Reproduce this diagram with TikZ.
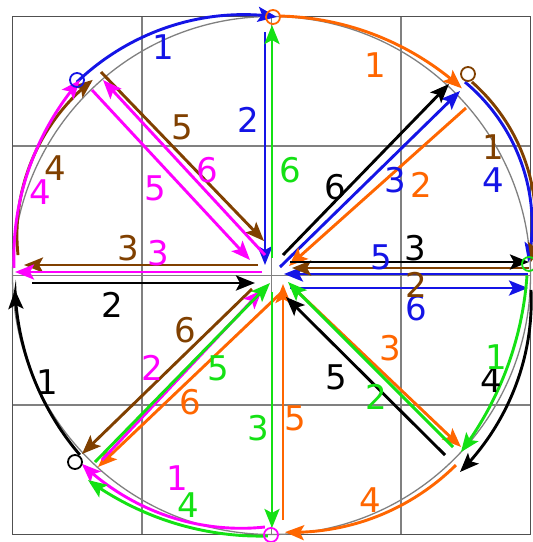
\documentclass[tikz,border=0pt]{standalone}
\usepackage{fontspec}
\setmainfont{DejaVu Sans}
\usetikzlibrary{arrows.meta}
\definecolor{cblue}{RGB}{20,20,230}
\definecolor{corange}{RGB}{255,102,0}
\definecolor{cbrown}{RGB}{128,64,0}
\definecolor{cmag}{RGB}{255,0,255}
\definecolor{cgreen}{RGB}{20,225,20}
\definecolor{gridgray}{RGB}{128,128,128}
\definecolor{bordergray}{RGB}{80,80,80}
\newcommand{\sarc}[6]{%
 \draw[#1] plot[smooth, domain=0:1, samples=40, variable=\f]
 ({271.5+(#3+(#5-#3)*\f+4*(#6-(#3+#5)/2)*\f*(1-\f))*cos(#2+(#4-#2)*\f)},
  {275.5-(#3+(#5-#3)*\f+4*(#6-(#3+#5)/2)*\f*(1-\f))*sin(#2+(#4-#2)*\f)});}
\tikzset{
 pth/.style={line width=2.9pt, line cap=butt, -{Stealth[length=19pt,width=15pt,inset=4pt]}},
 cB/.style={pth, color=cblue},
 cO/.style={pth, color=corange},
 cN/.style={pth, color=cbrown},
 cM/.style={pth, color=cmag},
 cK/.style={pth, color=black},
 cG/.style={pth, color=cgreen},
 gridl/.style={draw=gridgray, line width=1.6pt},
 border/.style={draw=bordergray, line width=1.8pt},
 circl/.style={draw=gridgray, line width=1.3pt},
 lbl/.style={font=\fontsize{34}{40}\selectfont, inner sep=0pt},
 mk/.style={circle, draw, line width=1.8pt, minimum size=14pt, inner sep=0pt}
}
\begin{document}
\begin{tikzpicture}[x=1pt,y=-1pt]
\useasboundingbox (0,0) rectangle (533,542);
\fill[white] (0,0) rectangle (533,542);
% grid
\foreach \i in {1,2,3} {
 \draw[gridl] ({12.5+129.5*\i},16.5) -- ({12.5+129.5*\i},534.5);
 \draw[gridl] (12.5,{16.5+129.5*\i}) -- (530.5,{16.5+129.5*\i});
}
\draw[border] (12.5,16.5) rectangle (530.5,534.5);
\draw[circl] (271.5,275.5) circle[radius=259pt];
% blue
\sarc{cB}{135.2}{274.4}{88.8}{258.6}{269}
\draw[cB] (265,32) -- (265,265);
\draw[cB] (280,267) -- (460,91);
\sarc{cB}{45}{273.6}{3}{257}{274}
\draw[cB] (528,274) -- (284,274);
\draw[cB] (290,288) -- (528,288);
% orange
\sarc{cO}{88.1}{259.6}{44.5}{267}{262}
\draw[cO] (466,108) -- (289,266);
\draw[cO] (298,292) -- (461,447);
\sarc{cO}{-45.8}{264.5}{-87}{257}{263}
\draw[cO] (283,520) -- (283,284);
\draw[cO] (282,292) -- (98,467);
% brown
\sarc{cN}{44}{278.6}{3}{260}{278}
\draw[cN] (529,268) -- (292,268);
\draw[cN] (258,265) -- (24,265);
\sarc{cN}{175.4}{254.3}{132.4}{265}{266}
\draw[cN] (101,72) -- (264,241);
\draw[cN] (252,289) -- (82,454);
% magenta
\sarc{cM}{268.5}{251.6}{224.8}{267.3}{262}
\draw[cM] (102,460) -- (262,290);
\draw[cM] (262,272) -- (15,272);
\sarc{cM}{178.3}{257.6}{134.4}{273.7}{265}
\draw[cM] (92,90) -- (250,260);
\draw[cM] (265,255) -- (103,80);
% black
\sarc{cK}{223.1}{262.5}{183.2}{256.9}{259}
\draw[cK] (32,283) -- (255,283);
\draw[cK] (290,262) -- (529,262);
\sarc{cK}{-3.2}{259.9}{-46.2}{272.3}{268}
\draw[cK] (445,455) -- (286,297);
\draw[cK] (283,255) -- (449,84);
% green
\sarc{cG}{0}{255.5}{-43}{259}{253}
\draw[cG] (453,447) -- (288,282);
\draw[cG] (272,292) -- (272,528);
\sarc{cG}{269.2}{260.5}{228.1}{274.8}{266}
\draw[cG] (95,462) -- (270,283);
\draw[cG] (272,258) -- (272,25);
% start markers
\node[mk, draw=cblue] (mB) at (77,80) {};
\node[mk, draw=corange] (mO) at (273,17) {};
\node[mk, draw=cbrown] (mN) at (468,74) {};
\node[mk, draw=cmag] (mM) at (271,535) {};
\node[mk, draw=black] (mK) at (75,462) {};
\node[mk, draw=cgreen] (mG) at (529,264) {};
% labels blue
\node[lbl, text=cblue] (b1) at (163,47) {1};
\node[lbl, text=cblue] (b2) at (248,120) {2};
\node[lbl, text=cblue] (b3) at (395,180) {3};
\node[lbl, text=cblue] (b4) at (493,180) {4};
\node[lbl, text=cblue] (b5) at (381,257) {5};
\node[lbl, text=cblue] (b6) at (416,308) {6};
% labels orange
\node[lbl, text=corange] (o1) at (375,65) {1};
\node[lbl, text=corange] (o2) at (421,185) {2};
\node[lbl, text=corange] (o3) at (390,348) {3};
\node[lbl, text=corange] (o4) at (370,500) {4};
\node[lbl, text=corange] (o5) at (295,418) {5};
\node[lbl, text=corange] (o6) at (190,402) {6};
% labels brown
\node[lbl, text=cbrown] (n1) at (493,147) {1};
\node[lbl, text=cbrown] (n2) at (416,285) {2};
\node[lbl, text=cbrown] (n3) at (128,248) {3};
\node[lbl, text=cbrown] (n4) at (55,168) {4};
\node[lbl, text=cbrown] (n5) at (182,127) {5};
\node[lbl, text=cbrown] (n6) at (185,330) {6};
% labels magenta
\node[lbl, text=cmag] (m1) at (177,478) {1};
\node[lbl, text=cmag] (m2) at (152,368) {2};
\node[lbl, text=cmag] (m3) at (158,253) {3};
\node[lbl, text=cmag] (m4) at (40,192) {4};
\node[lbl, text=cmag] (m5) at (155,188) {5};
\node[lbl, text=cmag] (m6) at (207,170) {6};
% labels black
\node[lbl, text=black] (k1) at (47,382) {1};
\node[lbl, text=black] (k2) at (112,305) {2};
\node[lbl, text=black] (k3) at (415,248) {3};
\node[lbl, text=black] (k4) at (491,380) {4};
\node[lbl, text=black] (k5) at (336,377) {5};
\node[lbl, text=black] (k6) at (335,187) {6};
% labels green
\node[lbl, text=cgreen] (g1) at (496,357) {1};
\node[lbl, text=cgreen] (g2) at (376,397) {2};
\node[lbl, text=cgreen] (g3) at (258,428) {3};
\node[lbl, text=cgreen] (g4) at (188,505) {4};
\node[lbl, text=cgreen] (g5) at (218,368) {5};
\node[lbl, text=cgreen] (g6) at (290,170) {6};
\end{tikzpicture}
\end{document}
